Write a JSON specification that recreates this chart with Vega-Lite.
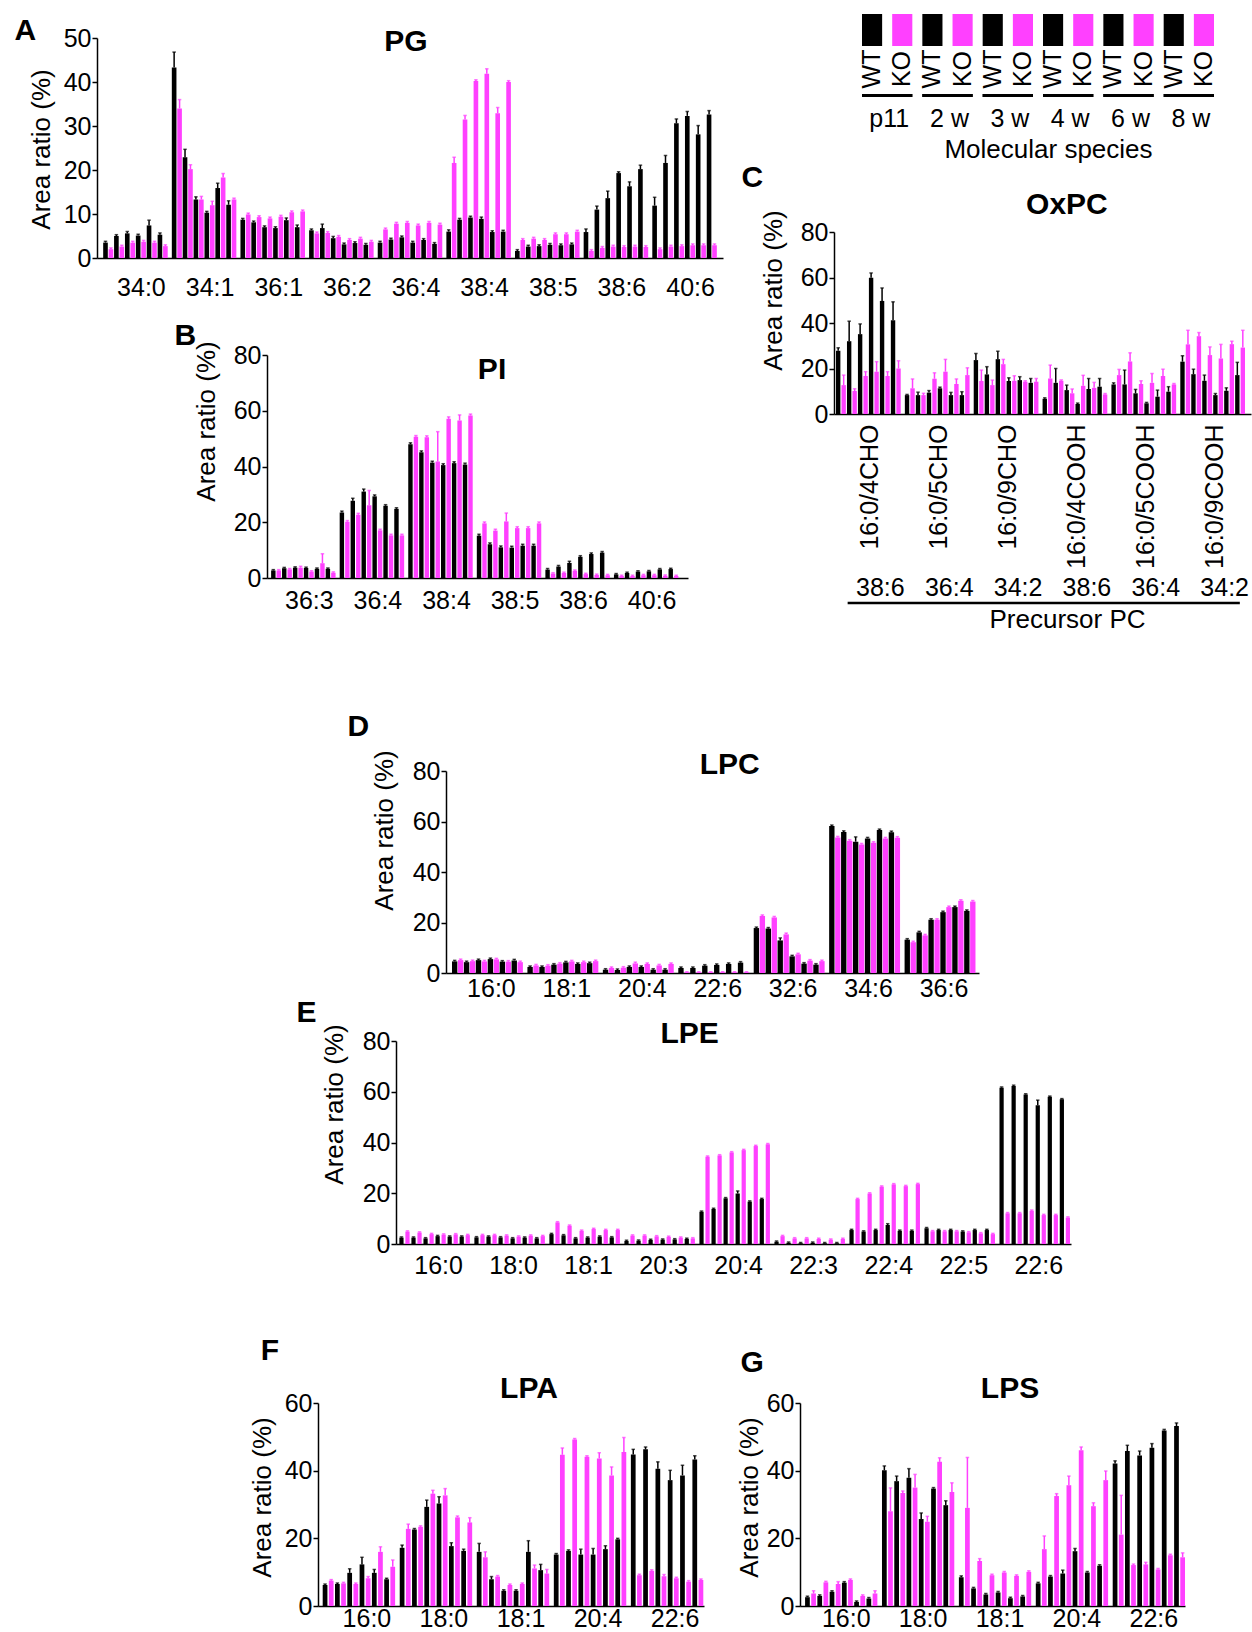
{
"$schema": "https://vega.github.io/schema/vega-lite/v6.json",
"width": 1252, "height": 1632,
"autosize": {"type": "none"},
"padding": 0,
"background": "white",
"config": {
  "font": "Liberation Sans",
  "view": {"stroke": null},
  "axis": {"domainColor": "black", "domainWidth": 1.5, "tickColor": "black", "tickWidth": 1.5, "labelColor": "black", "titleColor": "black", "labelFontSize": 25, "titleFontSize": 26, "titleFontWeight": "normal", "grid": false, "labelFont": "Liberation Sans", "titleFont": "Liberation Sans"}
},
"datasets": {
"A": [
{"g":"34:0","s":"W1","v":3.5,"h":3.8},{"g":"34:0","s":"K1","v":2.0,"h":2.3},{"g":"34:0","s":"W2","v":5.0,"h":5.3},{"g":"34:0","s":"K2","v":2.6,"h":2.9},{"g":"34:0","s":"W3","v":5.6,"h":6.0},{"g":"34:0","s":"K3","v":3.5,"h":3.8},{"g":"34:0","s":"W4","v":5.1,"h":5.4},{"g":"34:0","s":"K4","v":3.7,"h":4.0},{"g":"34:0","s":"W6","v":7.4,"h":8.6},{"g":"34:0","s":"K6","v":3.5,"h":3.8},{"g":"34:0","s":"W8","v":5.3,"h":5.7},{"g":"34:0","s":"K8","v":2.7,"h":3.0},
{"g":"34:1","s":"W1","v":43.3,"h":46.8},{"g":"34:1","s":"K1","v":34.0,"h":36.0},{"g":"34:1","s":"W2","v":22.9,"h":24.7},{"g":"34:1","s":"K2","v":20.2,"h":21.2},{"g":"34:1","s":"W3","v":13.3,"h":13.9},{"g":"34:1","s":"K3","v":13.3,"h":14.0},{"g":"34:1","s":"W4","v":10.3,"h":10.6},{"g":"34:1","s":"K4","v":12.0,"h":12.9},{"g":"34:1","s":"W6","v":15.9,"h":17.0},{"g":"34:1","s":"K6","v":18.3,"h":19.2},{"g":"34:1","s":"W8","v":12.1,"h":13.0},{"g":"34:1","s":"K8","v":13.3,"h":13.6},
{"g":"36:1","s":"W1","v":8.7,"h":9.0},{"g":"36:1","s":"K1","v":9.9,"h":10.2},{"g":"36:1","s":"W2","v":8.1,"h":8.4},{"g":"36:1","s":"K2","v":9.3,"h":9.6},{"g":"36:1","s":"W3","v":7.0,"h":7.3},{"g":"36:1","s":"K3","v":9.0,"h":9.3},{"g":"36:1","s":"W4","v":6.8,"h":7.1},{"g":"36:1","s":"K4","v":9.4,"h":9.7},{"g":"36:1","s":"W6","v":8.6,"h":9.1},{"g":"36:1","s":"K6","v":10.4,"h":10.7},{"g":"36:1","s":"W8","v":7.0,"h":7.5},{"g":"36:1","s":"K8","v":10.6,"h":10.9},
{"g":"36:2","s":"W1","v":6.3,"h":6.6},{"g":"36:2","s":"K1","v":5.6,"h":5.9},{"g":"36:2","s":"W2","v":6.8,"h":7.7},{"g":"36:2","s":"K2","v":5.7,"h":6.0},{"g":"36:2","s":"W3","v":4.5,"h":4.9},{"g":"36:2","s":"K3","v":4.8,"h":5.1},{"g":"36:2","s":"W4","v":3.1,"h":3.4},{"g":"36:2","s":"K4","v":4.1,"h":4.4},{"g":"36:2","s":"W6","v":3.4,"h":3.7},{"g":"36:2","s":"K6","v":4.4,"h":4.7},{"g":"36:2","s":"W8","v":3.0,"h":3.3},{"g":"36:2","s":"K8","v":3.7,"h":4.0},
{"g":"36:4","s":"W1","v":3.5,"h":3.8},{"g":"36:4","s":"K1","v":6.5,"h":6.8},{"g":"36:4","s":"W2","v":4.2,"h":4.5},{"g":"36:4","s":"K2","v":7.8,"h":8.1},{"g":"36:4","s":"W3","v":4.7,"h":5.0},{"g":"36:4","s":"K3","v":8.0,"h":8.3},{"g":"36:4","s":"W4","v":3.5,"h":3.8},{"g":"36:4","s":"K4","v":7.4,"h":7.7},{"g":"36:4","s":"W6","v":4.1,"h":4.4},{"g":"36:4","s":"K6","v":8.0,"h":8.3},{"g":"36:4","s":"W8","v":3.2,"h":3.5},{"g":"36:4","s":"K8","v":7.6,"h":7.9},
{"g":"38:4","s":"W1","v":6.0,"h":6.4},{"g":"38:4","s":"K1","v":21.6,"h":22.9},{"g":"38:4","s":"W2","v":8.7,"h":9.0},{"g":"38:4","s":"K2","v":31.5,"h":32.4},{"g":"38:4","s":"W3","v":9.2,"h":9.5},{"g":"38:4","s":"K3","v":40.2,"h":40.5},{"g":"38:4","s":"W4","v":8.9,"h":9.3},{"g":"38:4","s":"K4","v":41.9,"h":43.0},{"g":"38:4","s":"W6","v":5.9,"h":6.2},{"g":"38:4","s":"K6","v":32.9,"h":34.2},{"g":"38:4","s":"W8","v":6.0,"h":6.3},{"g":"38:4","s":"K8","v":40.0,"h":40.3},
{"g":"38:5","s":"W1","v":1.6,"h":1.9},{"g":"38:5","s":"K1","v":4.1,"h":4.4},{"g":"38:5","s":"W2","v":2.6,"h":2.9},{"g":"38:5","s":"K2","v":4.4,"h":4.7},{"g":"38:5","s":"W3","v":2.7,"h":3.0},{"g":"38:5","s":"K3","v":4.1,"h":4.4},{"g":"38:5","s":"W4","v":3.0,"h":3.3},{"g":"38:5","s":"K4","v":5.4,"h":5.7},{"g":"38:5","s":"W6","v":2.9,"h":3.2},{"g":"38:5","s":"K6","v":5.4,"h":5.7},{"g":"38:5","s":"W8","v":3.1,"h":3.4},{"g":"38:5","s":"K8","v":6.0,"h":6.3},
{"g":"38:6","s":"W1","v":5.9,"h":6.6},{"g":"38:6","s":"K1","v":1.6,"h":1.9},{"g":"38:6","s":"W2","v":11.0,"h":11.8},{"g":"38:6","s":"K2","v":2.3,"h":2.6},{"g":"38:6","s":"W3","v":13.6,"h":15.2},{"g":"38:6","s":"K3","v":2.6,"h":2.9},{"g":"38:6","s":"W4","v":19.3,"h":19.6},{"g":"38:6","s":"K4","v":2.5,"h":2.8},{"g":"38:6","s":"W6","v":16.3,"h":17.3},{"g":"38:6","s":"K6","v":2.6,"h":2.9},{"g":"38:6","s":"W8","v":20.2,"h":21.1},{"g":"38:6","s":"K8","v":2.5,"h":2.8},
{"g":"40:6","s":"W1","v":11.9,"h":13.8},{"g":"40:6","s":"K1","v":2.0,"h":2.3},{"g":"40:6","s":"W2","v":21.6,"h":23.3},{"g":"40:6","s":"K2","v":2.6,"h":2.9},{"g":"40:6","s":"W3","v":30.6,"h":31.6},{"g":"40:6","s":"K3","v":2.7,"h":3.0},{"g":"40:6","s":"W4","v":32.3,"h":33.3},{"g":"40:6","s":"K4","v":2.9,"h":3.2},{"g":"40:6","s":"W6","v":28.1,"h":30.1},{"g":"40:6","s":"K6","v":2.9,"h":3.2},{"g":"40:6","s":"W8","v":32.6,"h":33.5},{"g":"40:6","s":"K8","v":2.9,"h":3.2}
],
"B": [
{"g":"36:3","s":"W1","v":2.7,"h":3.0},{"g":"36:3","s":"K1","v":2.7,"h":3.0},{"g":"36:3","s":"W2","v":3.5,"h":3.8},{"g":"36:3","s":"K2","v":3.1,"h":3.4},{"g":"36:3","s":"W3","v":3.7,"h":4.0},{"g":"36:3","s":"K3","v":3.7,"h":4.2},{"g":"36:3","s":"W4","v":3.6,"h":3.9},{"g":"36:3","s":"K4","v":2.3,"h":2.6},{"g":"36:3","s":"W6","v":3.3,"h":3.6},{"g":"36:3","s":"K6","v":5.3,"h":8.7},{"g":"36:3","s":"W8","v":3.3,"h":3.6},{"g":"36:3","s":"K8","v":1.9,"h":2.2},
{"g":"36:4","s":"W1","v":23.5,"h":24.0},{"g":"36:4","s":"K1","v":20.2,"h":20.6},{"g":"36:4","s":"W2","v":27.7,"h":28.6},{"g":"36:4","s":"K2","v":22.7,"h":23.2},{"g":"36:4","s":"W3","v":31.0,"h":31.9},{"g":"36:4","s":"K3","v":26.1,"h":31.4},{"g":"36:4","s":"W4","v":29.3,"h":29.8},{"g":"36:4","s":"K4","v":17.1,"h":17.5},{"g":"36:4","s":"W6","v":25.9,"h":26.3},{"g":"36:4","s":"K6","v":15.3,"h":15.7},{"g":"36:4","s":"W8","v":24.8,"h":25.2},{"g":"36:4","s":"K8","v":15.3,"h":15.7},
{"g":"38:4","s":"W1","v":48.0,"h":48.5},{"g":"38:4","s":"K1","v":50.7,"h":51.1},{"g":"38:4","s":"W2","v":45.1,"h":45.6},{"g":"38:4","s":"K2","v":50.5,"h":51.0},{"g":"38:4","s":"W3","v":41.4,"h":41.9},{"g":"38:4","s":"K3","v":41.8,"h":52.5},{"g":"38:4","s":"W4","v":40.5,"h":41.0},{"g":"38:4","s":"K4","v":57.1,"h":57.8},{"g":"38:4","s":"W6","v":41.2,"h":41.7},{"g":"38:4","s":"K6","v":56.5,"h":58.5},{"g":"38:4","s":"W8","v":40.7,"h":41.2},{"g":"38:4","s":"K8","v":58.3,"h":58.8},
{"g":"38:5","s":"W1","v":15.2,"h":15.7},{"g":"38:5","s":"K1","v":19.6,"h":20.1},{"g":"38:5","s":"W2","v":12.1,"h":12.6},{"g":"38:5","s":"K2","v":17.0,"h":17.5},{"g":"38:5","s":"W3","v":11.0,"h":11.5},{"g":"38:5","s":"K3","v":20.3,"h":23.3},{"g":"38:5","s":"W4","v":10.9,"h":11.4},{"g":"38:5","s":"K4","v":17.9,"h":18.4},{"g":"38:5","s":"W6","v":11.6,"h":12.1},{"g":"38:5","s":"K6","v":17.9,"h":18.4},{"g":"38:5","s":"W8","v":11.6,"h":12.1},{"g":"38:5","s":"K8","v":19.6,"h":20.1},
{"g":"38:6","s":"W1","v":3.0,"h":3.4},{"g":"38:6","s":"K1","v":1.6,"h":1.9},{"g":"38:6","s":"W2","v":4.1,"h":4.5},{"g":"38:6","s":"K2","v":1.8,"h":2.1},{"g":"38:6","s":"W3","v":5.4,"h":6.0},{"g":"38:6","s":"K3","v":2.6,"h":2.9},{"g":"38:6","s":"W4","v":7.6,"h":8.0},{"g":"38:6","s":"K4","v":1.4,"h":1.7},{"g":"38:6","s":"W6","v":8.6,"h":9.0},{"g":"38:6","s":"K6","v":1.1,"h":1.4},{"g":"38:6","s":"W8","v":9.1,"h":9.5},{"g":"38:6","s":"K8","v":1.0,"h":1.3},
{"g":"40:6","s":"W1","v":1.3,"h":1.6},{"g":"40:6","s":"K1","v":0.7,"h":1.0},{"g":"40:6","s":"W2","v":1.8,"h":2.1},{"g":"40:6","s":"K2","v":0.7,"h":1.0},{"g":"40:6","s":"W3","v":2.3,"h":2.6},{"g":"40:6","s":"K3","v":1.0,"h":1.3},{"g":"40:6","s":"W4","v":2.4,"h":2.7},{"g":"40:6","s":"K4","v":1.0,"h":1.3},{"g":"40:6","s":"W6","v":3.1,"h":3.4},{"g":"40:6","s":"K6","v":0.8,"h":1.1},{"g":"40:6","s":"W8","v":3.2,"h":3.5},{"g":"40:6","s":"K8","v":0.7,"h":1.0}
],
"C": [
{"g":"16:0/4CHO","s":"W1","v":27.8,"h":29.1},{"g":"16:0/4CHO","s":"K1","v":12.7,"h":17.1},{"g":"16:0/4CHO","s":"W2","v":32.0,"h":40.8},{"g":"16:0/4CHO","s":"K2","v":10.1,"h":11.1},{"g":"16:0/4CHO","s":"W3","v":35.1,"h":39.6},{"g":"16:0/4CHO","s":"K3","v":16.7,"h":18.6},{"g":"16:0/4CHO","s":"W4","v":59.9,"h":62.0},{"g":"16:0/4CHO","s":"K4","v":18.6,"h":23.0},{"g":"16:0/4CHO","s":"W6","v":49.7,"h":55.4},{"g":"16:0/4CHO","s":"K6","v":16.7,"h":18.6},{"g":"16:0/4CHO","s":"W8","v":41.2,"h":49.3},{"g":"16:0/4CHO","s":"K8","v":20.0,"h":23.4},
{"g":"16:0/5CHO","s":"W1","v":8.3,"h":8.6},{"g":"16:0/5CHO","s":"K1","v":11.3,"h":15.4},{"g":"16:0/5CHO","s":"W2","v":8.3,"h":9.6},{"g":"16:0/5CHO","s":"K2","v":8.3,"h":9.1},{"g":"16:0/5CHO","s":"W3","v":9.4,"h":10.3},{"g":"16:0/5CHO","s":"K3","v":15.5,"h":18.1},{"g":"16:0/5CHO","s":"W4","v":11.3,"h":11.8},{"g":"16:0/5CHO","s":"K4","v":18.6,"h":24.0},{"g":"16:0/5CHO","s":"W6","v":8.3,"h":9.5},{"g":"16:0/5CHO","s":"K6","v":13.2,"h":15.4},{"g":"16:0/5CHO","s":"W8","v":8.3,"h":9.8},{"g":"16:0/5CHO","s":"K8","v":17.1,"h":20.3},
{"g":"16:0/9CHO","s":"W1","v":23.7,"h":26.6},{"g":"16:0/9CHO","s":"K1","v":14.5,"h":19.3},{"g":"16:0/9CHO","s":"W2","v":17.4,"h":20.8},{"g":"16:0/9CHO","s":"K2","v":12.7,"h":14.9},{"g":"16:0/9CHO","s":"W3","v":24.1,"h":27.6},{"g":"16:0/9CHO","s":"K3","v":21.9,"h":24.0},{"g":"16:0/9CHO","s":"W4","v":14.5,"h":15.9},{"g":"16:0/9CHO","s":"K4","v":14.6,"h":16.8},{"g":"16:0/9CHO","s":"W6","v":14.9,"h":16.4},{"g":"16:0/9CHO","s":"K6","v":14.2,"h":14.6},{"g":"16:0/9CHO","s":"W8","v":13.7,"h":15.6},{"g":"16:0/9CHO","s":"K8","v":14.2,"h":15.6},
{"g":"16:0/4COOH","s":"W1","v":6.7,"h":7.1},{"g":"16:0/4COOH","s":"K1","v":15.6,"h":21.5},{"g":"16:0/4COOH","s":"W2","v":13.7,"h":20.0},{"g":"16:0/4COOH","s":"K2","v":14.6,"h":15.0},{"g":"16:0/4COOH","s":"W3","v":10.5,"h":12.7},{"g":"16:0/4COOH","s":"K3","v":9.1,"h":11.0},{"g":"16:0/4COOH","s":"W4","v":4.4,"h":4.8},{"g":"16:0/4COOH","s":"K4","v":12.4,"h":17.0},{"g":"16:0/4COOH","s":"W6","v":11.0,"h":15.6},{"g":"16:0/4COOH","s":"K6","v":11.5,"h":13.9},{"g":"16:0/4COOH","s":"W8","v":12.0,"h":15.6},{"g":"16:0/4COOH","s":"K8","v":8.6,"h":9.0},
{"g":"16:0/5COOH","s":"W1","v":13.0,"h":13.7},{"g":"16:0/5COOH","s":"K1","v":17.1,"h":19.6},{"g":"16:0/5COOH","s":"W2","v":13.0,"h":19.3},{"g":"16:0/5COOH","s":"K2","v":23.1,"h":26.9},{"g":"16:0/5COOH","s":"W3","v":9.1,"h":10.8},{"g":"16:0/5COOH","s":"K3","v":13.2,"h":14.6},{"g":"16:0/5COOH","s":"W4","v":4.7,"h":5.1},{"g":"16:0/5COOH","s":"K4","v":13.7,"h":17.8},{"g":"16:0/5COOH","s":"W6","v":7.6,"h":10.5},{"g":"16:0/5COOH","s":"K6","v":16.7,"h":19.7},{"g":"16:0/5COOH","s":"W8","v":9.8,"h":12.0},{"g":"16:0/5COOH","s":"K8","v":13.0,"h":13.4},
{"g":"16:0/9COOH","s":"W1","v":23.0,"h":25.6},{"g":"16:0/9COOH","s":"K1","v":30.6,"h":36.8},{"g":"16:0/9COOH","s":"W2","v":17.5,"h":19.7},{"g":"16:0/9COOH","s":"K2","v":34.2,"h":35.8},{"g":"16:0/9COOH","s":"W3","v":14.6,"h":17.1},{"g":"16:0/9COOH","s":"K3","v":25.9,"h":29.5},{"g":"16:0/9COOH","s":"W4","v":8.3,"h":9.0},{"g":"16:0/9COOH","s":"K4","v":24.4,"h":30.6},{"g":"16:0/9COOH","s":"W6","v":10.2,"h":11.5},{"g":"16:0/9COOH","s":"K6","v":30.7,"h":32.0},{"g":"16:0/9COOH","s":"W8","v":17.1,"h":22.7},{"g":"16:0/9COOH","s":"K8","v":29.2,"h":36.8}
],
"Cp": [
{"g":"16:0/4CHO","p":"38:6"},{"g":"16:0/5CHO","p":"36:4"},{"g":"16:0/9CHO","p":"34:2"},{"g":"16:0/4COOH","p":"38:6"},{"g":"16:0/5COOH","p":"36:4"},{"g":"16:0/9COOH","p":"34:2"}
],
"D": [
{"g":"16:0","s":"W1","v":4.6,"h":5.0},{"g":"16:0","s":"K1","v":5.1,"h":5.5},{"g":"16:0","s":"W2","v":4.3,"h":4.7},{"g":"16:0","s":"K2","v":4.7,"h":5.1},{"g":"16:0","s":"W3","v":5.1,"h":5.5},{"g":"16:0","s":"K3","v":4.6,"h":5.0},{"g":"16:0","s":"W4","v":5.5,"h":5.9},{"g":"16:0","s":"K4","v":5.4,"h":5.8},{"g":"16:0","s":"W6","v":4.5,"h":4.9},{"g":"16:0","s":"K6","v":4.5,"h":4.9},{"g":"16:0","s":"W8","v":5.0,"h":5.4},{"g":"16:0","s":"K8","v":4.3,"h":4.7},
{"g":"18:1","s":"W1","v":2.4,"h":2.8},{"g":"18:1","s":"K1","v":3.0,"h":3.4},{"g":"18:1","s":"W2","v":2.4,"h":2.8},{"g":"18:1","s":"K2","v":2.9,"h":3.3},{"g":"18:1","s":"W3","v":3.3,"h":3.7},{"g":"18:1","s":"K3","v":3.7,"h":4.1},{"g":"18:1","s":"W4","v":4.2,"h":4.6},{"g":"18:1","s":"K4","v":4.6,"h":5.0},{"g":"18:1","s":"W6","v":3.6,"h":4.0},{"g":"18:1","s":"K6","v":4.3,"h":4.7},{"g":"18:1","s":"W8","v":3.9,"h":4.3},{"g":"18:1","s":"K8","v":4.7,"h":5.1},
{"g":"20:4","s":"W1","v":1.3,"h":1.7},{"g":"20:4","s":"K1","v":2.0,"h":2.4},{"g":"20:4","s":"W2","v":1.2,"h":1.6},{"g":"20:4","s":"K2","v":2.1,"h":2.5},{"g":"20:4","s":"W3","v":2.4,"h":2.8},{"g":"20:4","s":"K3","v":3.8,"h":4.3},{"g":"20:4","s":"W4","v":2.4,"h":2.8},{"g":"20:4","s":"K4","v":3.6,"h":4.0},{"g":"20:4","s":"W6","v":1.3,"h":1.7},{"g":"20:4","s":"K6","v":3.0,"h":3.4},{"g":"20:4","s":"W8","v":1.3,"h":1.7},{"g":"20:4","s":"K8","v":3.6,"h":4.0},
{"g":"22:6","s":"W1","v":2.0,"h":2.4},{"g":"22:6","s":"K1","v":0.3,"h":0.5},{"g":"22:6","s":"W2","v":2.0,"h":2.4},{"g":"22:6","s":"K2","v":0.3,"h":0.5},{"g":"22:6","s":"W3","v":2.9,"h":3.3},{"g":"22:6","s":"K3","v":0.3,"h":0.5},{"g":"22:6","s":"W4","v":3.2,"h":3.6},{"g":"22:6","s":"K4","v":0.3,"h":0.5},{"g":"22:6","s":"W6","v":3.6,"h":4.0},{"g":"22:6","s":"K6","v":0.3,"h":0.5},{"g":"22:6","s":"W8","v":4.1,"h":4.5},{"g":"22:6","s":"K8","v":0.3,"h":0.5},
{"g":"32:6","s":"W1","v":17.8,"h":18.2},{"g":"32:6","s":"K1","v":22.6,"h":23.0},{"g":"32:6","s":"W2","v":17.6,"h":18.0},{"g":"32:6","s":"K2","v":22.0,"h":22.4},{"g":"32:6","s":"W3","v":12.9,"h":13.9},{"g":"32:6","s":"K3","v":15.3,"h":15.8},{"g":"32:6","s":"W4","v":6.6,"h":7.0},{"g":"32:6","s":"K4","v":7.4,"h":7.8},{"g":"32:6","s":"W6","v":3.7,"h":4.1},{"g":"32:6","s":"K6","v":4.9,"h":5.3},{"g":"32:6","s":"W8","v":3.3,"h":3.7},{"g":"32:6","s":"K8","v":4.7,"h":5.1},
{"g":"34:6","s":"W1","v":58.2,"h":58.6},{"g":"34:6","s":"K1","v":53.7,"h":54.1},{"g":"34:6","s":"W2","v":55.8,"h":56.3},{"g":"34:6","s":"K2","v":52.4,"h":52.8},{"g":"34:6","s":"W3","v":52.0,"h":53.9},{"g":"34:6","s":"K3","v":50.9,"h":51.3},{"g":"34:6","s":"W4","v":53.3,"h":53.7},{"g":"34:6","s":"K4","v":51.6,"h":52.0},{"g":"34:6","s":"W6","v":56.6,"h":57.0},{"g":"34:6","s":"K6","v":53.3,"h":53.7},{"g":"34:6","s":"W8","v":55.7,"h":56.2},{"g":"34:6","s":"K8","v":53.6,"h":54.0},
{"g":"36:6","s":"W1","v":13.2,"h":13.6},{"g":"36:6","s":"K1","v":12.2,"h":12.6},{"g":"36:6","s":"W2","v":16.1,"h":16.5},{"g":"36:6","s":"K2","v":14.9,"h":15.3},{"g":"36:6","s":"W3","v":21.1,"h":21.5},{"g":"36:6","s":"K3","v":21.1,"h":21.5},{"g":"36:6","s":"W4","v":24.1,"h":24.5},{"g":"36:6","s":"K4","v":26.1,"h":26.5},{"g":"36:6","s":"W6","v":26.1,"h":26.5},{"g":"36:6","s":"K6","v":28.6,"h":29.0},{"g":"36:6","s":"W8","v":24.6,"h":25.0},{"g":"36:6","s":"K8","v":28.3,"h":28.7}
],
"E": [
{"g":"16:0","s":"W1","v":2.5,"h":2.8},{"g":"16:0","s":"K1","v":4.9,"h":5.2},{"g":"16:0","s":"W2","v":2.5,"h":2.8},{"g":"16:0","s":"K2","v":4.5,"h":4.8},{"g":"16:0","s":"W3","v":2.2,"h":2.5},{"g":"16:0","s":"K3","v":3.9,"h":4.2},{"g":"16:0","s":"W4","v":3.1,"h":3.4},{"g":"16:0","s":"K4","v":3.7,"h":4.0},{"g":"16:0","s":"W6","v":2.9,"h":3.2},{"g":"16:0","s":"K6","v":3.8,"h":4.1},{"g":"16:0","s":"W8","v":2.9,"h":3.2},{"g":"16:0","s":"K8","v":3.5,"h":3.8},
{"g":"18:0","s":"W1","v":2.6,"h":2.9},{"g":"18:0","s":"K1","v":3.5,"h":3.8},{"g":"18:0","s":"W2","v":2.9,"h":3.2},{"g":"18:0","s":"K2","v":3.5,"h":3.8},{"g":"18:0","s":"W3","v":2.6,"h":2.9},{"g":"18:0","s":"K3","v":3.3,"h":3.6},{"g":"18:0","s":"W4","v":2.2,"h":2.5},{"g":"18:0","s":"K4","v":2.9,"h":3.2},{"g":"18:0","s":"W6","v":2.5,"h":2.8},{"g":"18:0","s":"K6","v":3.3,"h":3.6},{"g":"18:0","s":"W8","v":2.2,"h":2.5},{"g":"18:0","s":"K8","v":3.1,"h":3.4},
{"g":"18:1","s":"W1","v":3.9,"h":4.2},{"g":"18:1","s":"K1","v":8.5,"h":8.8},{"g":"18:1","s":"W2","v":3.4,"h":3.7},{"g":"18:1","s":"K2","v":7.2,"h":7.5},{"g":"18:1","s":"W3","v":2.2,"h":2.5},{"g":"18:1","s":"K3","v":5.2,"h":5.5},{"g":"18:1","s":"W4","v":2.5,"h":2.8},{"g":"18:1","s":"K4","v":5.9,"h":6.2},{"g":"18:1","s":"W6","v":2.9,"h":3.2},{"g":"18:1","s":"K6","v":5.5,"h":5.8},{"g":"18:1","s":"W8","v":2.6,"h":2.9},{"g":"18:1","s":"K8","v":5.5,"h":5.8},
{"g":"20:3","s":"W1","v":1.2,"h":1.5},{"g":"20:3","s":"K1","v":3.3,"h":3.6},{"g":"20:3","s":"W2","v":1.3,"h":1.6},{"g":"20:3","s":"K2","v":3.3,"h":3.6},{"g":"20:3","s":"W3","v":1.6,"h":1.9},{"g":"20:3","s":"K3","v":3.0,"h":3.3},{"g":"20:3","s":"W4","v":1.7,"h":2.0},{"g":"20:3","s":"K4","v":2.8,"h":3.1},{"g":"20:3","s":"W6","v":1.8,"h":2.1},{"g":"20:3","s":"K6","v":2.5,"h":2.8},{"g":"20:3","s":"W8","v":2.0,"h":2.3},{"g":"20:3","s":"K8","v":2.2,"h":2.5},
{"g":"20:4","s":"W1","v":12.7,"h":13.0},{"g":"20:4","s":"K1","v":34.4,"h":34.7},{"g":"20:4","s":"W2","v":13.8,"h":14.1},{"g":"20:4","s":"K2","v":34.9,"h":35.2},{"g":"20:4","s":"W3","v":18.0,"h":18.3},{"g":"20:4","s":"K3","v":36.1,"h":36.4},{"g":"20:4","s":"W4","v":19.9,"h":20.9},{"g":"20:4","s":"K4","v":37.0,"h":37.3},{"g":"20:4","s":"W6","v":16.7,"h":17.0},{"g":"20:4","s":"K6","v":38.6,"h":38.9},{"g":"20:4","s":"W8","v":17.7,"h":18.0},{"g":"20:4","s":"K8","v":39.3,"h":39.6},
{"g":"22:3","s":"W1","v":0.9,"h":1.2},{"g":"22:3","s":"K1","v":3.1,"h":3.4},{"g":"22:3","s":"W2","v":0.5,"h":0.8},{"g":"22:3","s":"K2","v":2.2,"h":2.5},{"g":"22:3","s":"W3","v":0.3,"h":0.6},{"g":"22:3","s":"K3","v":2.2,"h":2.5},{"g":"22:3","s":"W4","v":0.5,"h":0.8},{"g":"22:3","s":"K4","v":2.0,"h":2.3},{"g":"22:3","s":"W6","v":0.3,"h":0.6},{"g":"22:3","s":"K6","v":1.7,"h":2.0},{"g":"22:3","s":"W8","v":0.3,"h":0.6},{"g":"22:3","s":"K8","v":2.0,"h":2.3},
{"g":"22:4","s":"W1","v":5.5,"h":5.8},{"g":"22:4","s":"K1","v":17.7,"h":18.0},{"g":"22:4","s":"W2","v":4.9,"h":5.2},{"g":"22:4","s":"K2","v":19.9,"h":20.2},{"g":"22:4","s":"W3","v":5.5,"h":5.8},{"g":"22:4","s":"K3","v":22.6,"h":22.9},{"g":"22:4","s":"W4","v":7.5,"h":8.0},{"g":"22:4","s":"K4","v":23.5,"h":23.8},{"g":"22:4","s":"W6","v":5.2,"h":5.5},{"g":"22:4","s":"K6","v":22.8,"h":23.1},{"g":"22:4","s":"W8","v":5.2,"h":5.5},{"g":"22:4","s":"K8","v":23.6,"h":23.9},
{"g":"22:5","s":"W1","v":6.2,"h":6.5},{"g":"22:5","s":"K1","v":5.0,"h":5.3},{"g":"22:5","s":"W2","v":5.5,"h":5.8},{"g":"22:5","s":"K2","v":5.0,"h":5.3},{"g":"22:5","s":"W3","v":5.5,"h":5.8},{"g":"22:5","s":"K3","v":5.0,"h":5.3},{"g":"22:5","s":"W4","v":4.9,"h":5.2},{"g":"22:5","s":"K4","v":4.6,"h":4.9},{"g":"22:5","s":"W6","v":5.5,"h":5.8},{"g":"22:5","s":"K6","v":4.2,"h":4.5},{"g":"22:5","s":"W8","v":5.5,"h":5.8},{"g":"22:5","s":"K8","v":3.9,"h":4.2},
{"g":"22:6","s":"W1","v":61.6,"h":61.9},{"g":"22:6","s":"K1","v":12.1,"h":12.4},{"g":"22:6","s":"W2","v":62.3,"h":62.6},{"g":"22:6","s":"K2","v":12.1,"h":12.4},{"g":"22:6","s":"W3","v":58.9,"h":59.2},{"g":"22:6","s":"K3","v":13.1,"h":13.4},{"g":"22:6","s":"W4","v":54.7,"h":56.7},{"g":"22:6","s":"K4","v":11.4,"h":11.7},{"g":"22:6","s":"W6","v":58.0,"h":58.3},{"g":"22:6","s":"K6","v":11.4,"h":11.7},{"g":"22:6","s":"W8","v":57.0,"h":57.3},{"g":"22:6","s":"K8","v":10.4,"h":10.7}
],
"F": [
{"g":"16:0","s":"W1","v":6.2,"h":6.5},{"g":"16:0","s":"K1","v":7.5,"h":7.8},{"g":"16:0","s":"W2","v":6.5,"h":6.8},{"g":"16:0","s":"K2","v":6.7,"h":7.0},{"g":"16:0","s":"W3","v":9.8,"h":11.0},{"g":"16:0","s":"K3","v":6.5,"h":6.8},{"g":"16:0","s":"W4","v":12.3,"h":14.4},{"g":"16:0","s":"K4","v":8.2,"h":8.7},{"g":"16:0","s":"W6","v":9.8,"h":10.8},{"g":"16:0","s":"K6","v":16.0,"h":17.5},{"g":"16:0","s":"W8","v":7.9,"h":8.2},{"g":"16:0","s":"K8","v":11.6,"h":13.6},
{"g":"18:0","s":"W1","v":17.2,"h":18.0},{"g":"18:0","s":"K1","v":22.8,"h":24.2},{"g":"18:0","s":"W2","v":22.6,"h":22.9},{"g":"18:0","s":"K2","v":23.4,"h":23.7},{"g":"18:0","s":"W3","v":29.3,"h":31.3},{"g":"18:0","s":"K3","v":33.2,"h":34.2},{"g":"18:0","s":"W4","v":30.3,"h":32.3},{"g":"18:0","s":"K4","v":32.7,"h":34.7},{"g":"18:0","s":"W6","v":17.7,"h":18.7},{"g":"18:0","s":"K6","v":26.2,"h":26.6},{"g":"18:0","s":"W8","v":16.3,"h":16.8},{"g":"18:0","s":"K8","v":24.7,"h":26.1},
{"g":"18:1","s":"W1","v":16.0,"h":18.5},{"g":"18:1","s":"K1","v":14.4,"h":16.0},{"g":"18:1","s":"W2","v":7.9,"h":8.7},{"g":"18:1","s":"K2","v":8.7,"h":9.0},{"g":"18:1","s":"W3","v":4.5,"h":4.8},{"g":"18:1","s":"K3","v":6.2,"h":6.5},{"g":"18:1","s":"W4","v":4.5,"h":4.8},{"g":"18:1","s":"K4","v":6.5,"h":6.8},{"g":"18:1","s":"W6","v":16.0,"h":19.3},{"g":"18:1","s":"K6","v":11.1,"h":12.1},{"g":"18:1","s":"W8","v":10.6,"h":12.3},{"g":"18:1","s":"K8","v":9.6,"h":10.8},
{"g":"20:4","s":"W1","v":15.2,"h":15.5},{"g":"20:4","s":"K1","v":44.7,"h":46.7},{"g":"20:4","s":"W2","v":16.3,"h":16.6},{"g":"20:4","s":"K2","v":49.2,"h":49.5},{"g":"20:4","s":"W3","v":15.2,"h":16.8},{"g":"20:4","s":"K3","v":44.1,"h":44.4},{"g":"20:4","s":"W4","v":15.2,"h":17.0},{"g":"20:4","s":"K4","v":43.6,"h":45.3},{"g":"20:4","s":"W6","v":16.8,"h":17.8},{"g":"20:4","s":"K6","v":38.6,"h":41.1},{"g":"20:4","s":"W8","v":19.7,"h":20.0},{"g":"20:4","s":"K8","v":45.5,"h":49.8},
{"g":"22:6","s":"W1","v":44.8,"h":46.3},{"g":"22:6","s":"K1","v":9.1,"h":9.4},{"g":"22:6","s":"W2","v":46.3,"h":47.0},{"g":"22:6","s":"K2","v":10.4,"h":10.7},{"g":"22:6","s":"W3","v":40.6,"h":42.6},{"g":"22:6","s":"K3","v":8.8,"h":9.3},{"g":"22:6","s":"W4","v":37.2,"h":40.1},{"g":"22:6","s":"K4","v":8.2,"h":8.5},{"g":"22:6","s":"W6","v":38.6,"h":41.6},{"g":"22:6","s":"K6","v":7.2,"h":7.5},{"g":"22:6","s":"W8","v":43.3,"h":44.4},{"g":"22:6","s":"K8","v":7.7,"h":8.0}
],
"G": [
{"g":"16:0","s":"W1","v":2.6,"h":2.9},{"g":"16:0","s":"K1","v":3.7,"h":4.5},{"g":"16:0","s":"W2","v":3.0,"h":3.3},{"g":"16:0","s":"K2","v":7.0,"h":7.3},{"g":"16:0","s":"W3","v":4.2,"h":4.5},{"g":"16:0","s":"K3","v":6.5,"h":7.2},{"g":"16:0","s":"W4","v":6.9,"h":7.2},{"g":"16:0","s":"K4","v":7.7,"h":8.0},{"g":"16:0","s":"W6","v":1.2,"h":1.5},{"g":"16:0","s":"K6","v":3.0,"h":3.3},{"g":"16:0","s":"W8","v":2.2,"h":2.5},{"g":"16:0","s":"K8","v":3.7,"h":4.5},
{"g":"18:0","s":"W1","v":40.1,"h":41.4},{"g":"18:0","s":"K1","v":28.0,"h":34.9},{"g":"18:0","s":"W2","v":36.9,"h":38.4},{"g":"18:0","s":"K2","v":33.4,"h":34.0},{"g":"18:0","s":"W3","v":37.9,"h":40.6},{"g":"18:0","s":"K3","v":35.0,"h":38.9},{"g":"18:0","s":"W4","v":25.7,"h":27.5},{"g":"18:0","s":"K4","v":24.9,"h":26.5},{"g":"18:0","s":"W6","v":34.7,"h":35.0},{"g":"18:0","s":"K6","v":42.6,"h":43.8},{"g":"18:0","s":"W8","v":29.8,"h":31.1},{"g":"18:0","s":"K8","v":33.7,"h":36.4},
{"g":"18:1","s":"W1","v":8.5,"h":8.9},{"g":"18:1","s":"K1","v":29.0,"h":43.9},{"g":"18:1","s":"W2","v":5.2,"h":5.5},{"g":"18:1","s":"K2","v":13.3,"h":14.0},{"g":"18:1","s":"W3","v":3.4,"h":3.7},{"g":"18:1","s":"K3","v":9.1,"h":9.4},{"g":"18:1","s":"W4","v":4.0,"h":4.3},{"g":"18:1","s":"K4","v":9.9,"h":10.2},{"g":"18:1","s":"W6","v":2.3,"h":2.6},{"g":"18:1","s":"K6","v":8.9,"h":9.2},{"g":"18:1","s":"W8","v":2.8,"h":3.1},{"g":"18:1","s":"K8","v":10.1,"h":10.4},
{"g":"20:4","s":"W1","v":6.7,"h":7.0},{"g":"20:4","s":"K1","v":16.8,"h":20.7},{"g":"20:4","s":"W2","v":8.7,"h":9.0},{"g":"20:4","s":"K2","v":32.5,"h":33.2},{"g":"20:4","s":"W3","v":9.6,"h":10.6},{"g":"20:4","s":"K3","v":35.7,"h":38.4},{"g":"20:4","s":"W4","v":16.2,"h":17.0},{"g":"20:4","s":"K4","v":46.0,"h":47.0},{"g":"20:4","s":"W6","v":9.9,"h":10.2},{"g":"20:4","s":"K6","v":29.5,"h":30.5},{"g":"20:4","s":"W8","v":11.9,"h":12.2},{"g":"20:4","s":"K8","v":37.2,"h":39.9},
{"g":"22:6","s":"W1","v":42.1,"h":42.9},{"g":"22:6","s":"K1","v":21.1,"h":32.7},{"g":"22:6","s":"W2","v":45.8,"h":47.5},{"g":"22:6","s":"K2","v":12.1,"h":12.4},{"g":"22:6","s":"W3","v":44.5,"h":45.8},{"g":"22:6","s":"K3","v":12.3,"h":12.9},{"g":"22:6","s":"W4","v":46.8,"h":48.0},{"g":"22:6","s":"K4","v":10.8,"h":11.1},{"g":"22:6","s":"W6","v":51.9,"h":52.2},{"g":"22:6","s":"K6","v":15.0,"h":15.3},{"g":"22:6","s":"W8","v":53.2,"h":54.1},{"g":"22:6","s":"K8","v":14.4,"h":15.7}
],
"L": [
{"a":"p11","t":"WT","s":"W1"},{"a":"p11","t":"KO","s":"K1"},{"a":"2 w","t":"WT","s":"W2"},{"a":"2 w","t":"KO","s":"K2"},{"a":"3 w","t":"WT","s":"W3"},{"a":"3 w","t":"KO","s":"K3"},{"a":"4 w","t":"WT","s":"W4"},{"a":"4 w","t":"KO","s":"K4"},{"a":"6 w","t":"WT","s":"W6"},{"a":"6 w","t":"KO","s":"K6"},{"a":"8 w","t":"WT","s":"W8"},{"a":"8 w","t":"KO","s":"K8"}
]
},
"resolve": {"scale": {"x": "independent", "y": "independent", "xOffset": "independent"}, "axis": {"x": "independent", "y": "independent"}},
"layer": [
{
 "layer": [
  {"data": {"name": "A"},
   "encoding": {
    "x": {"field": "g", "type": "nominal", "scale": {"domain": ["34:0","34:1","36:1","36:2","36:4","38:4","38:5","38:6","40:6"], "range": [97,723], "paddingInner": 0.06, "paddingOuter": 0.09, "align": 0.5}, "axis": {"orient": "bottom", "offset": -1374, "ticks": false, "tickSize": 0, "labelAngle": 0, "labelPadding": 17, "labelOffset": 6, "title": null}},
    "xOffset": {"field": "s", "type": "nominal", "scale": {"domain": ["W1","K1","W2","K2","W3","K3","W4","K4","W6","K6","W8","K8"], "paddingInner": 0.15, "paddingOuter": 0}},
    "color": {"field": "s", "type": "nominal", "scale": {"domain": ["W1","K1","W2","K2","W3","K3","W4","K4","W6","K6","W8","K8"], "range": ["#000000","#ff40ff","#000000","#ff40ff","#000000","#ff40ff","#000000","#ff40ff","#000000","#ff40ff","#000000","#ff40ff"]}, "legend": null}
   },
   "layer": [
    {"mark": {"type": "bar"}, "encoding": {"y": {"field": "v", "type": "quantitative", "scale": {"domain": [0,50], "range": [258,38], "nice": false}, "axis": {"orient": "left", "offset": -97, "values": [0,10,20,30,40,50], "tickSize": 5, "labelPadding": 1, "title": "Area ratio (%)", "titlePadding": 9, "titleY": 149}}}},
    {"mark": {"type": "rule", "strokeWidth": 1.5}, "encoding": {"y": {"field": "v", "type": "quantitative"}, "y2": {"field": "h"}}},
    {"mark": {"type": "tick", "thickness": 1.5, "size": 3.5}, "encoding": {"y": {"field": "h", "type": "quantitative"}}}
   ]
  },
  {"data": {"values": [{}]}, "mark": {"type": "text", "fontSize": 30, "fontWeight": "bold", "color": "black", "align": "center", "baseline": "middle", "dx": -4}, "encoding": {"x": {"datum": "36:4"}, "y": {"datum": 49.1}, "text": {"value": "PG"}}},
  {"data": {"values": [{}]}, "mark": {"type": "text", "fontSize": 30, "fontWeight": "bold", "color": "black", "align": "center", "baseline": "middle", "dx": -110}, "encoding": {"x": {"datum": "34:0"}, "y": {"datum": 51.6}, "text": {"value": "A"}}}
 ]
},
{
 "layer": [
  {"data": {"name": "B"},
   "encoding": {
    "x": {"field": "g", "type": "nominal", "scale": {"domain": ["36:3","36:4","38:4","38:5","38:6","40:6"], "range": [267,688], "paddingInner": 0.06, "paddingOuter": 0.1, "align": 0.3}, "axis": {"orient": "bottom", "offset": -1054, "ticks": false, "tickSize": 0, "labelAngle": 0, "labelPadding": 10, "labelOffset": 6, "title": null}},
    "xOffset": {"field": "s", "type": "nominal", "scale": {"domain": ["W1","K1","W2","K2","W3","K3","W4","K4","W6","K6","W8","K8"], "paddingInner": 0.19, "paddingOuter": 0}},
    "color": {"field": "s", "type": "nominal", "legend": null}
   },
   "layer": [
    {"mark": {"type": "bar"}, "encoding": {"y": {"field": "v", "type": "quantitative", "scale": {"domain": [0,80], "range": [578,355], "nice": false}, "axis": {"orient": "left", "offset": -267, "values": [0,20,40,60,80], "tickSize": 5, "labelPadding": 1, "title": "Area ratio (%)", "titlePadding": 14, "titleY": 421}}}},
    {"mark": {"type": "rule", "strokeWidth": 1.5}, "encoding": {"y": {"field": "v", "type": "quantitative"}, "y2": {"field": "h"}}},
    {"mark": {"type": "tick", "thickness": 1.5, "size": 3.5}, "encoding": {"y": {"field": "h", "type": "quantitative"}}}
   ]
  },
  {"data": {"values": [{}]}, "mark": {"type": "text", "fontSize": 30, "fontWeight": "bold", "color": "black", "align": "center", "baseline": "middle", "dx": -17}, "encoding": {"x": {"datum": "38:5"}, "y": {"datum": 74.6}, "text": {"value": "PI"}}},
  {"data": {"values": [{}]}, "mark": {"type": "text", "fontSize": 30, "fontWeight": "bold", "color": "black", "align": "center", "baseline": "middle", "dx": -118}, "encoding": {"x": {"datum": "36:3"}, "y": {"datum": 86.8}, "text": {"value": "B"}}}
 ]
},
{
 "layer": [
  {"data": {"name": "C"},
   "encoding": {
    "x": {"field": "g", "type": "nominal", "scale": {"domain": ["16:0/4CHO","16:0/5CHO","16:0/9CHO","16:0/4COOH","16:0/5COOH","16:0/9COOH"], "range": [834,1251], "paddingInner": 0.06, "paddingOuter": 0.058, "align": 0.25}, "axis": {"orient": "bottom", "offset": -1218, "ticks": false, "tickSize": 0, "labelAngle": 270, "labelAlign": "right", "labelBaseline": "middle", "labelPadding": 10, "labelOffset": 2, "title": "Precursor PC", "titlePadding": 38, "titleX": 1067}},
    "xOffset": {"field": "s", "type": "nominal", "scale": {"domain": ["W1","K1","W2","K2","W3","K3","W4","K4","W6","K6","W8","K8"], "paddingInner": 0.2, "paddingOuter": 0}},
    "color": {"field": "s", "type": "nominal", "legend": null}
   },
   "layer": [
    {"mark": {"type": "bar"}, "encoding": {"y": {"field": "v", "type": "quantitative", "scale": {"domain": [0,80], "range": [414,232], "nice": false}, "axis": {"orient": "left", "offset": -834, "values": [0,20,40,60,80], "tickSize": 5, "labelPadding": 1, "title": "Area ratio (%)", "titlePadding": 14, "titleY": 290}}}},
    {"mark": {"type": "rule", "strokeWidth": 1.5}, "encoding": {"y": {"field": "v", "type": "quantitative"}, "y2": {"field": "h"}}},
    {"mark": {"type": "tick", "thickness": 1.5, "size": 3.5}, "encoding": {"y": {"field": "h", "type": "quantitative"}}}
   ]
  },
  {"data": {"name": "Cp"}, "mark": {"type": "text", "fontSize": 25, "color": "black", "align": "center", "baseline": "middle", "dx": 12}, "encoding": {"x": {"field": "g", "type": "nominal"}, "y": {"datum": -76.5}, "text": {"field": "p"}}},
  {"data": {"values": [{}]}, "mark": {"type": "rule", "strokeWidth": 2.5, "color": "black"}, "encoding": {"x": {"datum": "16:0/4CHO", "bandPosition": 0.18}, "x2": {"datum": "16:0/9COOH", "bandPosition": 0.92}, "y": {"datum": -83.1}}},
  {"data": {"values": [{}]}, "mark": {"type": "text", "fontSize": 30, "fontWeight": "bold", "color": "black", "align": "center", "baseline": "middle", "dx": -8}, "encoding": {"x": {"datum": "16:0/4COOH"}, "y": {"datum": 91.9}, "text": {"value": "OxPC"}}},
  {"data": {"values": [{}]}, "mark": {"type": "text", "fontSize": 30, "fontWeight": "bold", "color": "black", "align": "center", "baseline": "middle", "dx": -116}, "encoding": {"x": {"datum": "16:0/4CHO"}, "y": {"datum": 103.7}, "text": {"value": "C"}}}
 ]
},
{
 "layer": [
  {"data": {"name": "D"},
   "encoding": {
    "x": {"field": "g", "type": "nominal", "scale": {"domain": ["16:0","18:1","20:4","22:6","32:6","34:6","36:6"], "range": [446,979], "paddingInner": 0.06, "paddingOuter": 0.063, "align": 0.63}, "axis": {"orient": "bottom", "offset": -659, "ticks": false, "tickSize": 0, "labelAngle": 0, "labelPadding": 3, "labelOffset": 4, "title": null}},
    "xOffset": {"field": "s", "type": "nominal", "scale": {"domain": ["W1","K1","W2","K2","W3","K3","W4","K4","W6","K6","W8","K8"], "paddingInner": 0.1, "paddingOuter": 0}},
    "color": {"field": "s", "type": "nominal", "legend": null}
   },
   "layer": [
    {"mark": {"type": "bar"}, "encoding": {"y": {"field": "v", "type": "quantitative", "scale": {"domain": [0,80], "range": [973,771], "nice": false}, "axis": {"orient": "left", "offset": -446, "values": [0,20,40,60,80], "tickSize": 5, "labelPadding": 1, "title": "Area ratio (%)", "titlePadding": 15, "titleY": 830}}}},
    {"mark": {"type": "rule", "strokeWidth": 1.5}, "encoding": {"y": {"field": "v", "type": "quantitative"}, "y2": {"field": "h"}}},
    {"mark": {"type": "tick", "thickness": 1.5, "size": 3.5}, "encoding": {"y": {"field": "h", "type": "quantitative"}}}
   ]
  },
  {"data": {"values": [{}]}, "mark": {"type": "text", "fontSize": 30, "fontWeight": "bold", "color": "black", "align": "center", "baseline": "middle", "dx": 16}, "encoding": {"x": {"datum": "22:6"}, "y": {"datum": 82.4}, "text": {"value": "LPC"}}},
  {"data": {"values": [{}]}, "mark": {"type": "text", "fontSize": 30, "fontWeight": "bold", "color": "black", "align": "center", "baseline": "middle", "dx": -129}, "encoding": {"x": {"datum": "16:0"}, "y": {"datum": 97.4}, "text": {"value": "D"}}}
 ]
},
{
 "layer": [
  {"data": {"name": "E"},
   "encoding": {
    "x": {"field": "g", "type": "nominal", "scale": {"domain": ["16:0","18:0","18:1","20:3","20:4","22:3","22:4","22:5","22:6"], "range": [396,1071], "paddingInner": 0.06, "paddingOuter": 0.029, "align": 0.77}, "axis": {"orient": "bottom", "offset": -388, "ticks": false, "tickSize": 0, "labelAngle": 0, "labelPadding": 9, "labelOffset": 4, "title": null}},
    "xOffset": {"field": "s", "type": "nominal", "scale": {"domain": ["W1","K1","W2","K2","W3","K3","W4","K4","W6","K6","W8","K8"], "paddingInner": 0.3, "paddingOuter": 0}},
    "color": {"field": "s", "type": "nominal", "legend": null}
   },
   "layer": [
    {"mark": {"type": "bar"}, "encoding": {"y": {"field": "v", "type": "quantitative", "scale": {"domain": [0,80], "range": [1244,1041], "nice": false}, "axis": {"orient": "left", "offset": -396, "values": [0,20,40,60,80], "tickSize": 5, "labelPadding": 1, "title": "Area ratio (%)", "titlePadding": 15, "titleY": 1104}}}},
    {"mark": {"type": "rule", "strokeWidth": 1.5}, "encoding": {"y": {"field": "v", "type": "quantitative"}, "y2": {"field": "h"}}},
    {"mark": {"type": "tick", "thickness": 1.5, "size": 3.5}, "encoding": {"y": {"field": "h", "type": "quantitative"}}}
   ]
  },
  {"data": {"values": [{}]}, "mark": {"type": "text", "fontSize": 30, "fontWeight": "bold", "color": "black", "align": "center", "baseline": "middle", "dx": 30}, "encoding": {"x": {"datum": "20:3"}, "y": {"datum": 82.8}, "text": {"value": "LPE"}}},
  {"data": {"values": [{}]}, "mark": {"type": "text", "fontSize": 30, "fontWeight": "bold", "color": "black", "align": "center", "baseline": "middle", "dx": -128}, "encoding": {"x": {"datum": "16:0"}, "y": {"datum": 91.0}, "text": {"value": "E"}}}
 ]
},
{
 "layer": [
  {"data": {"name": "F"},
   "encoding": {
    "x": {"field": "g", "type": "nominal", "scale": {"domain": ["16:0","18:0","18:1","20:4","22:6"], "range": [318,704], "paddingInner": 0.06, "paddingOuter": 0.035, "align": 0.87}, "axis": {"orient": "bottom", "offset": -26, "ticks": false, "tickSize": 0, "labelAngle": 0, "labelPadding": 0, "labelOffset": 8, "title": null}},
    "xOffset": {"field": "s", "type": "nominal", "scale": {"domain": ["W1","K1","W2","K2","W3","K3","W4","K4","W6","K6","W8","K8"], "paddingInner": 0.23, "paddingOuter": 0}},
    "color": {"field": "s", "type": "nominal", "legend": null}
   },
   "layer": [
    {"mark": {"type": "bar"}, "encoding": {"y": {"field": "v", "type": "quantitative", "scale": {"domain": [0,60], "range": [1606,1403], "nice": false}, "axis": {"orient": "left", "offset": -318, "values": [0,20,40,60], "tickSize": 5, "labelPadding": 1, "title": "Area ratio (%)", "titlePadding": 9, "titleY": 1497}}}},
    {"mark": {"type": "rule", "strokeWidth": 1.5}, "encoding": {"y": {"field": "v", "type": "quantitative"}, "y2": {"field": "h"}}},
    {"mark": {"type": "tick", "thickness": 1.5, "size": 3.5}, "encoding": {"y": {"field": "h", "type": "quantitative"}}}
   ]
  },
  {"data": {"values": [{}]}, "mark": {"type": "text", "fontSize": 30, "fontWeight": "bold", "color": "black", "align": "center", "baseline": "middle", "dx": 16}, "encoding": {"x": {"datum": "18:1"}, "y": {"datum": 64.1}, "text": {"value": "LPA"}}},
  {"data": {"values": [{}]}, "mark": {"type": "text", "fontSize": 30, "fontWeight": "bold", "color": "black", "align": "center", "baseline": "middle", "dx": -89}, "encoding": {"x": {"datum": "16:0"}, "y": {"datum": 75.4}, "text": {"value": "F"}}}
 ]
},
{
 "layer": [
  {"data": {"name": "G"},
   "encoding": {
    "x": {"field": "g", "type": "nominal", "scale": {"domain": ["16:0","18:0","18:1","20:4","22:6"], "range": [800,1185], "paddingInner": 0.06, "paddingOuter": 0.033, "align": 1}, "axis": {"orient": "bottom", "offset": -26, "ticks": false, "tickSize": 0, "labelAngle": 0, "labelPadding": 0, "labelOffset": 5, "title": null}},
    "xOffset": {"field": "s", "type": "nominal", "scale": {"domain": ["W1","K1","W2","K2","W3","K3","W4","K4","W6","K6","W8","K8"], "paddingInner": 0.23, "paddingOuter": 0}},
    "color": {"field": "s", "type": "nominal", "legend": null}
   },
   "layer": [
    {"mark": {"type": "bar"}, "encoding": {"y": {"field": "v", "type": "quantitative", "scale": {"domain": [0,60], "range": [1606,1403], "nice": false}, "axis": {"orient": "left", "offset": -800, "values": [0,20,40,60], "tickSize": 5, "labelPadding": 1, "title": "Area ratio (%)", "titlePadding": 4, "titleY": 1497}}}},
    {"mark": {"type": "rule", "strokeWidth": 1.5}, "encoding": {"y": {"field": "v", "type": "quantitative"}, "y2": {"field": "h"}}},
    {"mark": {"type": "tick", "thickness": 1.5, "size": 3.5}, "encoding": {"y": {"field": "h", "type": "quantitative"}}}
   ]
  },
  {"data": {"values": [{}]}, "mark": {"type": "text", "fontSize": 30, "fontWeight": "bold", "color": "black", "align": "center", "baseline": "middle", "dx": 15}, "encoding": {"x": {"datum": "18:1"}, "y": {"datum": 64.1}, "text": {"value": "LPS"}}},
  {"data": {"values": [{}]}, "mark": {"type": "text", "fontSize": 30, "fontWeight": "bold", "color": "black", "align": "center", "baseline": "middle", "dx": -89}, "encoding": {"x": {"datum": "16:0"}, "y": {"datum": 71.8}, "text": {"value": "G"}}}
 ]
},
{
 "data": {"name": "L"},
 "layer": [
  {"mark": {"type": "bar"}, "encoding": {
    "x": {"field": "a", "type": "nominal", "scale": {"domain": ["p11","2 w","3 w","4 w","6 w","8 w"], "range": [857,1219], "paddingInner": 0.166, "paddingOuter": 0.083}, "axis": {"orient": "bottom", "offset": -1535, "domain": false, "ticks": false, "tickSize": 0, "labelAngle": 0, "labelPadding": 9, "labelOffset": 2, "title": "Molecular species", "titlePadding": 5, "titleX": 1048}},
    "xOffset": {"field": "t", "type": "nominal", "scale": {"domain": ["WT","KO"], "paddingInner": 0.333, "paddingOuter": 0}},
    "y": {"datum": 83, "scale": {"domain": [0,83], "range": [97,14], "nice": false}, "axis": null},
    "y2": {"datum": 51},
    "color": {"field": "s", "type": "nominal", "legend": null}
  }},
  {"mark": {"type": "text", "angle": 270, "fontSize": 25, "color": "black", "align": "center", "baseline": "middle"}, "encoding": {
    "x": {"field": "a", "type": "nominal"},
    "xOffset": {"field": "t", "type": "nominal"},
    "y": {"datum": 28, "axis": null},
    "text": {"field": "t"}
  }},
  {"mark": {"type": "bar", "color": "black"}, "encoding": {
    "x": {"field": "a", "type": "nominal"},
    "y": {"datum": 3, "axis": null},
    "y2": {"datum": 0}
  }}
 ]
}
]
}
